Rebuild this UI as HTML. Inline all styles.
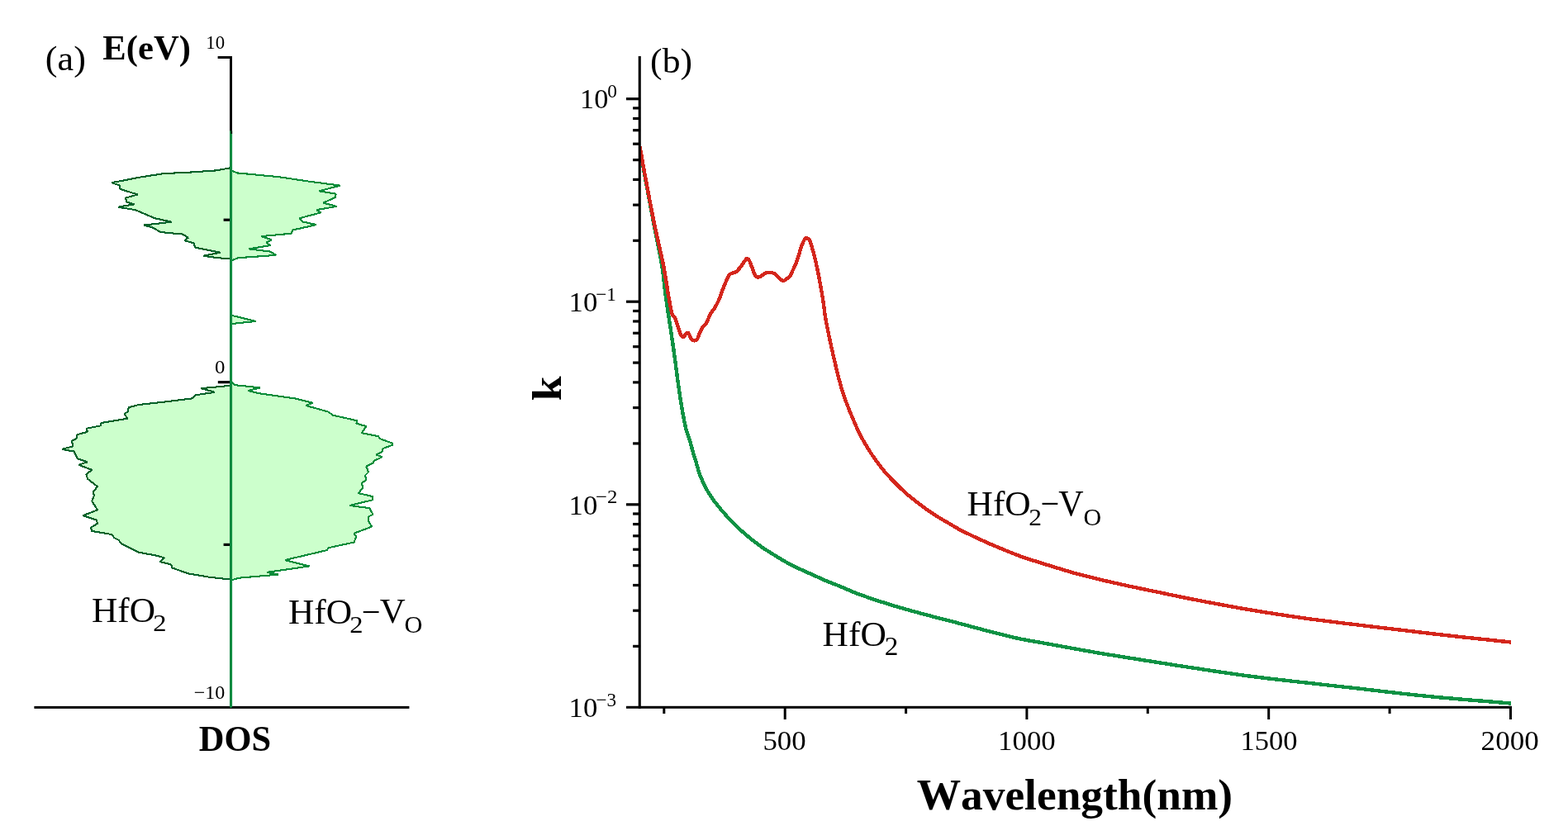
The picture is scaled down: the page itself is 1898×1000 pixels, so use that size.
<!DOCTYPE html><html><head><meta charset="utf-8"><title>Figure</title><style>html,body{margin:0;padding:0;background:#fff}svg{display:block}text{font-family:"Liberation Serif",serif;fill:#000;font-kerning:none}</style></head><body>
<svg width="1898" height="1000" viewBox="0 0 1898 1000">
<rect width="1898" height="1000" fill="#fff"/>
<g fill="#ccffcc" stroke-width="2.1" stroke-linejoin="bevel" shape-rendering="crispEdges">
<polygon points="279.3,203.2 261.6,206.4 231.3,208.5 197.6,210.2 170.6,214.4 135.2,221.2 145.3,224.6 145.3,228.8 166.4,235.5 152.0,239.7 153.7,244.8 163.0,247.3 142.8,250.7 163.8,254.1 187.4,264.2 207.7,268.7 174.0,272.6 184.1,275.1 194.2,281.0 221.2,283.6 227.9,287.8 223.7,291.2 234.6,294.5 236.3,299.6 266.7,305.8 246.4,309.7 263.3,312.2 279.3,313.4" stroke="#04622a"/>
<polygon points="279.3,206.0 286.9,209.4 305.5,211.1 339.2,214.4 372.9,219.5 411.7,224.6 386.4,231.3 406.6,234.7 405.8,238.9 391.4,245.6 407.5,249.9 383.0,254.1 388.1,257.4 362.8,264.2 366.2,268.4 383.0,272.1 354.4,278.5 352.7,282.7 316.4,286.1 329.1,290.3 322.3,293.7 327.4,297.1 301.2,301.3 327.4,304.6 334.1,308.9 288.6,312.2 279.3,315.6" stroke="#0a8c3a"/>
<polygon points="280.0,466.7 243.6,470.2 259.8,474.8 236.8,478.3 232.8,482.4 200.4,486.4 168.0,490.0 155.8,493.2 154.5,498.6 150.4,501.3 154.5,506.7 122.1,512.1 122.1,515.3 104.5,518.8 105.9,522.9 93.7,526.1 92.4,531.0 87.0,533.7 88.3,540.4 74.8,543.9 89.7,546.6 93.7,555.3 105.9,559.3 95.1,562.8 111.3,568.8 104.5,574.2 105.9,579.6 118.0,589.0 112.6,595.8 114.0,599.8 111.3,606.6 118.0,617.4 100.5,624.1 116.7,629.5 118.0,633.6 109.9,639.0 111.3,643.0 135.6,647.1 138.3,651.1 143.7,653.8 146.4,657.9 168.0,668.7 189.6,672.7 199.0,675.4 193.6,680.0 207.1,683.5 208.5,687.5 227.4,694.3 254.4,698.9 280.0,701.6" stroke="#04622a"/>
<polygon points="280.0,461.9 284.6,466.2 315.1,469.4 300.2,472.9 313.7,476.2 356.9,482.4 378.5,487.8 370.4,491.0 397.4,498.6 402.8,502.6 432.5,509.4 431.2,512.6 443.3,516.1 437.9,524.2 458.2,528.3 459.5,531.0 474.4,536.4 475.7,538.5 463.6,543.1 462.2,547.2 455.5,550.4 462.2,553.4 452.8,558.0 451.4,560.7 443.3,564.7 446.0,571.5 442.0,575.5 443.3,580.9 437.9,585.0 439.3,590.4 433.9,597.1 451.4,601.2 451.4,605.2 423.1,612.0 447.4,615.2 451.4,622.8 446.0,625.5 446.0,630.9 450.1,637.6 428.5,645.7 431.2,649.8 428.5,656.5 397.4,663.3 396.1,666.0 344.8,678.1 374.5,685.4 323.2,692.9 336.7,695.6 289.4,699.7 280.0,702.4" stroke="#0a8c3a"/>
<polygon points="279.5,381.6 309.5,389.0 279.5,392.1" stroke="#0a8c3a"/>
</g>
<g fill="#000">
<rect x="278" y="68" width="3" height="92"/>
<rect x="263.6" y="68" width="17.4" height="3"/>
<rect x="270.6" y="264.6" width="8" height="3.2"/>
<rect x="263.8" y="461.1" width="15" height="3.2"/>
<rect x="270.6" y="657.8" width="8" height="3.2"/>
<rect x="41.4" y="854.9" width="454" height="3"/>
</g>
<rect x="278.1" y="158.5" width="3" height="698.1" fill="#0f8f41"/>
<rect x="278.1" y="158.5" width="1.5" height="698.1" fill="#0a8540"/>
<rect x="279.6" y="158.5" width="1.5" height="3.5" fill="#000"/>
<text><tspan x="54.86" y="85.09" font-size="42.17" textLength="48.97" lengthAdjust="spacingAndGlyphs">(a)</tspan></text>
<text font-weight="bold"><tspan x="124.36" y="71.70" font-size="41.89" textLength="106.62" lengthAdjust="spacingAndGlyphs">E(eV)</tspan></text>
<text><tspan x="249.35" y="58.76" font-size="23.70" textLength="22.76" lengthAdjust="spacingAndGlyphs">10</tspan></text>
<text><tspan x="259.91" y="451.87" font-size="23.41" textLength="12.38" lengthAdjust="spacingAndGlyphs">0</tspan></text>
<text><tspan x="234.70" y="845.72" font-size="23.79" textLength="37.54" lengthAdjust="spacingAndGlyphs">−10</tspan></text>
<text font-weight="bold"><tspan x="240.75" y="909.35" font-size="44.63" textLength="87.26" lengthAdjust="spacingAndGlyphs">DOS</tspan></text>
<text><tspan x="110.95" y="752.68" font-size="42.46" textLength="76.98" lengthAdjust="spacingAndGlyphs">HfO</tspan><tspan x="185.34" y="763.90" font-size="29.70" textLength="16.25" lengthAdjust="spacingAndGlyphs">2</tspan></text>
<text><tspan x="348.94" y="754.58" font-size="42.25" textLength="77.10" lengthAdjust="spacingAndGlyphs">HfO</tspan><tspan x="423.24" y="766.40" font-size="30.15" textLength="16.25" lengthAdjust="spacingAndGlyphs">2</tspan><tspan x="437.78" y="754.58" font-size="42.25" textLength="22.80" lengthAdjust="spacingAndGlyphs">−</tspan><tspan x="459.87" y="754.35" font-size="43.16" textLength="30.95" lengthAdjust="spacingAndGlyphs">V</tspan><tspan x="489.59" y="766.10" font-size="29.70" textLength="21.89" lengthAdjust="spacingAndGlyphs">O</tspan></text>
<clipPath id="pc"><rect x="774.5" y="60" width="1054.5" height="797"/></clipPath>
<g fill="none" stroke-width="4.4" stroke-linejoin="round" clip-path="url(#pc)" shape-rendering="crispEdges">
<path d="M774.5,178.0C775.7,185.0 779.0,204.7 781.8,220.0C784.6,235.3 788.0,253.3 791.2,270.0C794.4,286.7 798.5,305.0 801.0,320.0C803.5,335.0 803.9,345.0 806.0,360.0C808.1,375.0 811.5,396.7 813.5,410.0C815.5,423.3 816.6,431.8 817.7,440.0C818.8,448.2 819.3,452.8 820.2,459.5C821.1,466.2 822.1,473.2 823.2,480.5C824.3,487.8 825.7,496.2 827.0,503.0C828.3,509.8 829.4,515.8 830.8,521.0C832.2,526.2 833.8,529.5 835.2,534.0C836.6,538.5 837.7,543.5 839.0,548.0C840.3,552.5 841.5,556.2 843.0,561.0C844.5,565.8 845.8,571.6 848.0,577.0C850.2,582.4 853.1,588.4 856.0,593.6C858.9,598.8 862.1,603.3 865.6,608.0C869.1,612.7 872.8,617.1 876.8,621.6C880.8,626.1 885.1,630.8 889.6,635.2C894.1,639.7 898.9,644.0 904.0,648.3C909.1,652.6 914.7,657.0 920.0,660.8C925.3,664.6 930.7,667.9 936.0,671.2C941.3,674.5 946.7,677.9 952.0,680.8C957.3,683.7 962.7,686.3 968.0,688.8C973.3,691.3 978.7,693.6 984.0,696.0C989.3,698.4 994.7,701.0 1000.0,703.2C1005.3,705.5 1009.3,706.8 1016.0,709.5C1022.7,712.2 1029.3,715.6 1040.0,719.5C1050.7,723.4 1066.7,728.7 1080.0,732.8C1093.3,736.9 1106.7,740.4 1120.0,744.0C1133.3,747.6 1146.7,750.9 1160.0,754.4C1173.3,757.9 1187.7,761.9 1200.0,765.0C1212.3,768.1 1222.5,770.8 1233.7,773.2C1244.9,775.6 1256.2,777.2 1267.4,779.3C1278.7,781.3 1290.0,783.5 1301.2,785.5C1312.5,787.5 1321.8,789.2 1334.9,791.4C1348.0,793.6 1361.2,795.6 1380.0,798.6C1398.8,801.6 1424.9,805.7 1447.4,809.1C1469.9,812.5 1492.4,816.0 1514.9,818.9C1537.4,821.8 1559.8,824.2 1582.3,826.7C1604.8,829.2 1630.2,832.0 1649.8,834.2C1669.4,836.4 1683.3,838.2 1700.0,840.0C1716.7,841.8 1728.5,843.1 1750.0,845.0C1771.5,846.9 1815.8,850.4 1829.0,851.5" stroke="#0f9244"/>
<path d="M774.5,177.5C775.8,184.6 779.3,204.6 782.2,220.0C785.1,235.4 788.4,253.3 791.8,270.0C795.2,286.7 799.8,305.0 802.8,320.0C805.8,335.0 807.7,350.0 809.5,360.0C811.3,370.0 812.2,375.8 813.5,380.0C814.8,384.2 815.9,382.8 817.0,385.0C818.1,387.2 818.9,389.8 820.0,393.0C821.1,396.2 822.3,401.5 823.5,404.0C824.7,406.5 825.8,408.1 827.0,408.0C828.2,407.9 829.9,404.2 831.0,403.5C832.1,402.8 832.5,402.3 833.5,403.5C834.5,404.7 835.8,409.0 837.0,410.5C838.2,412.0 839.3,412.5 840.5,412.5C841.7,412.5 842.9,412.1 844.0,410.5C845.1,408.9 846.0,405.2 847.0,403.0C848.0,400.8 848.7,399.0 850.0,397.0C851.3,395.0 853.3,393.8 855.0,391.0C856.7,388.2 858.3,383.0 860.0,380.0C861.7,377.0 863.3,375.8 865.0,373.0C866.7,370.2 868.3,367.3 870.0,363.5C871.7,359.7 873.3,354.2 875.0,350.0C876.7,345.8 878.7,340.9 880.0,338.0C881.3,335.1 882.0,333.7 883.0,332.5C884.0,331.3 884.7,331.6 886.0,331.0C887.3,330.4 889.5,330.0 891.0,329.0C892.5,328.0 893.5,326.8 895.0,325.0C896.5,323.2 898.5,320.0 900.0,318.0C901.5,316.0 902.8,313.4 904.0,313.0C905.2,312.6 906.0,313.8 907.0,315.5C908.0,317.2 908.8,320.1 910.0,323.0C911.2,325.9 912.8,330.9 914.0,333.0C915.2,335.1 915.8,335.2 917.0,335.5C918.2,335.8 919.3,335.3 921.0,334.5C922.7,333.7 924.7,331.2 927.0,330.5C929.3,329.8 932.8,329.9 935.0,330.3C937.2,330.8 938.5,332.0 940.0,333.2C941.5,334.4 942.6,336.6 944.0,337.7C945.4,338.8 947.0,339.9 948.5,339.8C950.0,339.7 951.6,338.1 953.0,337.0C954.4,335.9 955.8,334.8 957.0,333.0C958.2,331.2 958.9,328.8 960.0,326.5C961.1,324.2 962.4,321.8 963.5,319.0C964.6,316.2 965.5,313.2 966.5,310.0C967.5,306.8 968.4,303.1 969.5,300.0C970.6,296.9 972.0,293.4 973.0,291.5C974.0,289.6 974.6,288.4 975.8,288.3C977.0,288.2 978.8,289.1 980.0,291.0C981.2,292.9 982.0,296.7 983.0,300.0C984.0,303.3 985.0,307.0 986.0,311.0C987.0,315.0 988.0,319.3 989.0,324.0C990.0,328.7 991.1,334.2 992.0,339.0C992.9,343.8 993.6,347.8 994.5,353.0C995.4,358.2 996.5,365.1 997.2,370.0C997.9,374.9 997.9,377.2 998.8,382.5C999.7,387.8 1001.1,395.2 1002.5,402.0C1003.9,408.8 1005.5,416.2 1007.0,423.0C1008.5,429.8 1010.0,436.2 1011.5,442.5C1013.0,448.8 1014.4,454.5 1016.0,460.5C1017.6,466.5 1019.5,473.2 1021.2,478.5C1022.9,483.8 1024.5,487.4 1026.3,492.0C1028.1,496.6 1029.7,500.7 1032.0,506.0C1034.3,511.3 1037.0,518.0 1040.0,524.0C1043.0,530.0 1046.7,536.5 1050.0,542.0C1053.3,547.5 1056.7,552.3 1060.0,557.0C1063.3,561.7 1066.7,566.0 1070.0,570.0C1073.3,574.0 1076.7,577.5 1080.0,581.0C1083.3,584.5 1086.7,587.8 1090.0,591.0C1093.3,594.2 1096.7,597.2 1100.0,600.0C1103.3,602.8 1106.7,605.4 1110.0,608.0C1113.3,610.6 1116.7,613.2 1120.0,615.6C1123.3,618.0 1126.7,620.2 1130.0,622.4C1133.3,624.6 1136.7,626.6 1140.0,628.6C1143.3,630.6 1146.7,632.5 1150.0,634.4C1153.3,636.3 1156.7,638.5 1160.0,640.3C1163.3,642.1 1166.7,643.6 1170.0,645.3C1173.3,646.9 1176.7,648.6 1180.0,650.2C1183.3,651.8 1186.7,653.2 1190.0,654.7C1193.3,656.2 1192.7,656.2 1200.0,659.2C1207.3,662.2 1222.5,668.8 1233.7,672.9C1244.9,677.0 1256.2,680.3 1267.4,683.8C1278.7,687.3 1290.0,690.9 1301.2,694.0C1312.5,697.1 1323.7,699.7 1334.9,702.4C1346.1,705.1 1357.4,707.6 1368.6,710.0C1379.8,712.4 1391.1,714.7 1402.3,717.0C1413.5,719.3 1424.8,721.8 1436.0,724.0C1447.2,726.2 1456.6,728.1 1469.8,730.5C1483.0,732.9 1496.2,735.5 1514.9,738.6C1533.7,741.7 1559.8,745.8 1582.3,748.9C1604.8,752.0 1630.2,754.9 1649.8,757.3C1669.4,759.7 1683.3,761.2 1700.0,763.2C1716.7,765.2 1728.5,766.7 1750.0,769.1C1771.5,771.5 1815.8,776.1 1829.0,777.5" stroke="#d4261c"/>
</g>
<g fill="#000">
<rect x="772.7" y="68" width="3.1" height="789.8"/>
<rect x="758" y="854.8" width="1072" height="3"/>
<rect x="758" y="118.1" width="16" height="3.2"/>
<rect x="766.1" y="289.7" width="8" height="3.2"/>
<rect x="766.1" y="246.5" width="8" height="3.2"/>
<rect x="766.1" y="215.8" width="8" height="3.2"/>
<rect x="766.1" y="192.0" width="8" height="3.2"/>
<rect x="766.1" y="172.6" width="8" height="3.2"/>
<rect x="766.1" y="156.1" width="8" height="3.2"/>
<rect x="766.1" y="141.9" width="8" height="3.2"/>
<rect x="766.1" y="129.3" width="8" height="3.2"/>
<rect x="758" y="363.6" width="16" height="3.2"/>
<rect x="766.1" y="535.3" width="8" height="3.2"/>
<rect x="766.1" y="492.0" width="8" height="3.2"/>
<rect x="766.1" y="461.3" width="8" height="3.2"/>
<rect x="766.1" y="437.5" width="8" height="3.2"/>
<rect x="766.1" y="418.1" width="8" height="3.2"/>
<rect x="766.1" y="401.7" width="8" height="3.2"/>
<rect x="766.1" y="387.4" width="8" height="3.2"/>
<rect x="766.1" y="374.9" width="8" height="3.2"/>
<rect x="758" y="609.2" width="16" height="3.2"/>
<rect x="766.1" y="780.8" width="8" height="3.2"/>
<rect x="766.1" y="737.6" width="8" height="3.2"/>
<rect x="766.1" y="706.9" width="8" height="3.2"/>
<rect x="766.1" y="683.1" width="8" height="3.2"/>
<rect x="766.1" y="663.6" width="8" height="3.2"/>
<rect x="766.1" y="647.2" width="8" height="3.2"/>
<rect x="766.1" y="633.0" width="8" height="3.2"/>
<rect x="766.1" y="620.4" width="8" height="3.2"/>
<rect x="948.7" y="856" width="3" height="15"/>
<rect x="1241.4" y="856" width="3" height="15"/>
<rect x="1534.2" y="856" width="3" height="15"/>
<rect x="1827.0" y="856" width="3" height="15"/>
<rect x="802.3" y="856" width="3" height="8"/>
<rect x="1095.1" y="856" width="3" height="8"/>
<rect x="1387.8" y="856" width="3" height="8"/>
<rect x="1680.6" y="856" width="3" height="8"/>
</g>
<text><tspan x="702.02" y="131.41" font-size="34.00" textLength="34.25" lengthAdjust="spacingAndGlyphs">10</tspan><tspan x="735.17" y="117.57" font-size="23.41" textLength="11.67" lengthAdjust="spacingAndGlyphs">0</tspan></text>
<text><tspan x="688.58" y="376.86" font-size="33.93" textLength="34.71" lengthAdjust="spacingAndGlyphs">10</tspan><tspan x="721.24" y="363.80" font-size="23.82" textLength="24.73" lengthAdjust="spacingAndGlyphs">−1</tspan></text>
<text><tspan x="688.58" y="622.73" font-size="34.03" textLength="34.71" lengthAdjust="spacingAndGlyphs">10</tspan><tspan x="720.96" y="608.90" font-size="23.79" textLength="26.38" lengthAdjust="spacingAndGlyphs">−2</tspan></text>
<text><tspan x="688.58" y="867.86" font-size="34.07" textLength="34.71" lengthAdjust="spacingAndGlyphs">10</tspan><tspan x="721.44" y="855.36" font-size="23.88" textLength="24.66" lengthAdjust="spacingAndGlyphs">−3</tspan></text>
<text><tspan x="923.41" y="908.16" font-size="34.44" textLength="52.23" lengthAdjust="spacingAndGlyphs">500</tspan></text>
<text><tspan x="1208.07" y="908.16" font-size="34.44" textLength="69.63" lengthAdjust="spacingAndGlyphs">1000</tspan></text>
<text><tspan x="1501.49" y="908.16" font-size="34.44" textLength="69.09" lengthAdjust="spacingAndGlyphs">1500</tspan></text>
<text><tspan x="1792.62" y="908.16" font-size="34.44" textLength="70.08" lengthAdjust="spacingAndGlyphs">2000</tspan></text>
<text><tspan x="787.11" y="88.09" font-size="42.17" textLength="50.90" lengthAdjust="spacingAndGlyphs">(b)</tspan></text>
<text font-weight="bold"><tspan x="1109.70" y="980.09" font-size="52.31" textLength="382.46" lengthAdjust="spacingAndGlyphs">Wavelength(nm)</tspan></text>
<text font-weight="bold" transform="translate(679,484) rotate(-90)"><tspan x="-1.34" y="0.00" font-size="51.45" textLength="29.91" lengthAdjust="spacingAndGlyphs">k</tspan></text>
<text><tspan x="1170.56" y="623.97" font-size="42.54" textLength="77.11" lengthAdjust="spacingAndGlyphs">HfO</tspan><tspan x="1245.38" y="635.50" font-size="29.77" textLength="15.75" lengthAdjust="spacingAndGlyphs">2</tspan><tspan x="1259.48" y="623.97" font-size="42.54" textLength="22.80" lengthAdjust="spacingAndGlyphs">−</tspan><tspan x="1281.28" y="623.74" font-size="43.91" textLength="30.33" lengthAdjust="spacingAndGlyphs">V</tspan><tspan x="1311.50" y="635.50" font-size="29.55" textLength="21.61" lengthAdjust="spacingAndGlyphs">O</tspan></text>
<text><tspan x="995.60" y="781.72" font-size="43.10" textLength="77.22" lengthAdjust="spacingAndGlyphs">HfO</tspan><tspan x="1070.70" y="793.20" font-size="30.53" textLength="16.62" lengthAdjust="spacingAndGlyphs">2</tspan></text>
</svg></body></html>
